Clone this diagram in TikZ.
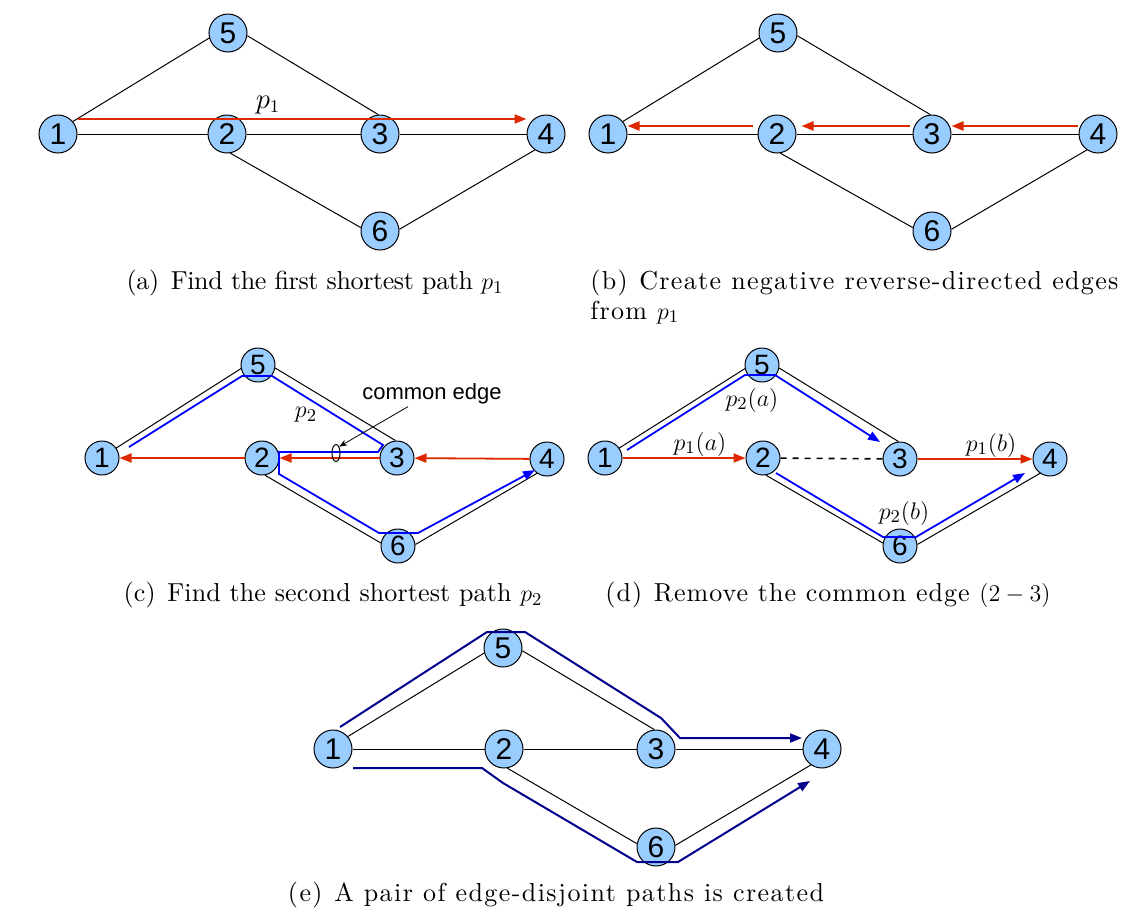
\documentclass[tikz,border=0pt]{standalone}
\usepackage{fontspec}
\usepackage{amsmath}
\usepackage{xcolor}
\usetikzlibrary{arrows.meta,calc,shapes.geometric}
\newfontfamily\nodefont{Liberation Sans}
\newfontfamily\capfont{lmroman10-regular.otf}[Ligatures=TeX]
\definecolor{nodeblue}{RGB}{153,204,255}
\definecolor{pathred}{RGB}{221,40,0}
\definecolor{pathblue}{RGB}{0,0,255}
\definecolor{pathnavy}{RGB}{0,0,140}

\begin{document}
\begin{tikzpicture}[x=0.5pt,y=-0.5pt,
  vtx/.style={circle,draw,line width=0.5pt,fill=nodeblue,inner sep=0pt,minimum size=19pt,font=\nodefont\fontsize{15}{15}\selectfont},
  svtx/.style={vtx,minimum size=17pt,font=\nodefont\fontsize{14}{14}\selectfont},
  link/.style={line width=0.5pt},
  redarr/.style={draw=pathred,line width=1.1pt,-{Triangle[length=6pt,width=4.5pt]}},
  sredarr/.style={redarr,line width=0.9pt},
  bluearr/.style={draw=pathblue,line width=0.9pt,-{Triangle[length=6pt,width=4.5pt]}},
  navyarr/.style={draw=pathnavy,line width=1pt,-{Triangle[length=6pt,width=4.5pt]}},
  lbl/.style={font=\fontsize{12.5}{12.5}\selectfont,inner sep=0pt},
  capt/.style={font=\capfont\fontsize{13}{15}\selectfont,inner sep=0pt}]
\useasboundingbox (0,0) rectangle (1142,911);

% (a)
\node[vtx] (a1) at (58,134) {1};
\node[vtx] (a2) at (227,134) {2};
\node[vtx] (a3) at (380,134) {3};
\node[vtx] (a4) at (546,134) {4};
\node[vtx] (a5) at (228,33) {5};
\node[vtx] (a6) at (380,231) {6};
\draw[link] (a1.40) -- (a5.195);
\draw[link] (a5.-8) -- (a3.95);
\draw[link] (a1) -- (a2);
\draw[link] (a2) -- (a3);
\draw[link] (a3) -- (a4);
\draw[link] (a2.-80) -- (a6.170);
\draw[link] (a6.5) -- (a4.235);
\draw[redarr] ([yshift=7.5pt]a1.east) -- ([yshift=7.5pt]a4.west);
\node[lbl,font=\fontsize{13.5}{13.5}\selectfont] (pa) at (268,105) {$p_1$};
\node[capt] (capa) at (315,283) {\addfontfeature{LetterSpace=-1.5}(a)\hspace{0.45em}Find the first shortest path $p_1$};

% (b)
\node[vtx] (b1) at (608,134) {1};
\node[vtx] (b2) at (777,134) {2};
\node[vtx] (b3) at (932,134) {3};
\node[vtx] (b4) at (1098,134) {4};
\node[vtx] (b5) at (778,33) {5};
\node[vtx] (b6) at (932,231) {6};
\draw[link] (b1.40) -- (b5.195);
\draw[link] (b5.-8) -- (b3.95);
\draw[link] (b1) -- (b2);
\draw[link] (b2) -- (b3);
\draw[link] (b3) -- (b4);
\draw[link] (b2.-80) -- (b6.170);
\draw[link] (b6.5) -- (b4.235);
\draw[redarr] ([xshift=-0.5pt,yshift=4pt]b4.west) -- ([yshift=4pt]b3.east);
\draw[redarr] ([xshift=-1.5pt,yshift=4pt]b3.west) -- ([xshift=2.5pt,yshift=4pt]b2.east);
\draw[redarr] ([xshift=-2.5pt,yshift=4pt]b2.west) -- ([yshift=4pt]b1.east);
\node[capt,anchor=base west,text width=264pt,align=justify] (capb) at (590,289)
  {\addfontfeature{LetterSpace=5}\exhyphenpenalty=10000\hyphenpenalty=10000 (b)\hspace{0.45em}Create negative reverse-directed edges\linebreak from $p_1$};

% (c)
\node[svtx] (c1) at (102,458) {1};
\node[svtx] (c2) at (262,458) {2};
\node[svtx] (c3) at (397,458) {3};
\node[svtx] (c4) at (547,459) {4};
\node[svtx] (c5) at (258,365) {5};
\node[svtx] (c6) at (398,546) {6};
\draw[link] (c1.35) -- (c5.192);
\draw[link] (c5.-10) -- (c3.95);
\draw[link] (c2.-80) -- (c6.170);
\draw[link] (c6.5) -- (c4.235);
\draw[sredarr] (c2) -- (c1);
\draw[sredarr] (c3) -- (c2);
\draw[sredarr] (c4) -- (c3);
\draw[bluearr] ($(c1)+(27,-11)$) -- ($(c5)+(-16,11)$) -- ($(c5)+(14,11)$)
  -- ($(c3)+(-14,-13)$) -- ($(c3)+(-19,-6)$) -- ($(c2)+(17,-6)$) -- ($(c2)+(17,16)$)
  -- ($(c6)+(-19,-13)$) -- ($(c6)+(20,-13)$) -- ($(c4)+(-12,11)$);
\node[lbl] (pc) at (306,415) {$p_2$};
\node[draw,ellipse,line width=0.5pt,inner sep=0pt,minimum width=4pt,minimum height=8.5pt] (ce) at (336,453) {};
\node[inner sep=1pt,font=\nodefont\fontsize{11}{11}\selectfont] (celab) at (432,394) {common edge};
\draw[line width=0.4pt,-{Stealth[length=4pt,width=3pt]}] ([xshift=-12pt]celab.south) -- (ce.north east);
\node[capt] (capc) at (333,595) {\addfontfeature{LetterSpace=0.5}(c)\hspace{0.45em}Find the second shortest path $p_2$};

% (d)
\node[svtx] (d1) at (605,458) {1};
\node[svtx] (d2) at (763,458) {2};
\node[svtx] (d3) at (900,459) {3};
\node[svtx] (d4) at (1050,459) {4};
\node[svtx] (d5) at (762,365) {5};
\node[svtx] (d6) at (900,546) {6};
\draw[link] (d1.35) -- (d5.192);
\draw[link] (d5.-10) -- (d3.95);
\draw[link] (d2.-80) -- (d6.170);
\draw[link] (d6.5) -- (d4.235);
\draw[link,dashed,line width=0.8pt] (d2) -- (d3);
\draw[sredarr] (d1) -- (d2);
\draw[sredarr] (d3) -- (d4);
\draw[bluearr] ($(d1)+(22,-8)$) -- ($(d5)+(-17,10)$) -- ($(d5)+(13,10)$) -- ($(d3)+(-20,-17)$);
\draw[bluearr] ($(d2)+(13,15)$) -- ($(d6)+(-17,-9)$) -- ($(d6)+(16,-9)$) -- ($(d4)+(-25,14)$);
\node[lbl] (pd1) at (700,444) {$p_1(a)$};
\node[lbl] (pd2) at (752,400) {$p_2(a)$};
\node[lbl] (pd3) at (991,445) {$p_1(b)$};
\node[lbl] (pd4) at (904,513) {$p_2(b)$};
\node[capt] (capd) at (828,595) {\addfontfeature{LetterSpace=4}(d)\hspace{0.45em}Remove the common edge $(2-3)$};

% (e)
\node[vtx] (e1) at (333,749) {1};
\node[vtx] (e2) at (504,749) {2};
\node[vtx] (e3) at (656,749) {3};
\node[vtx] (e4) at (822,749) {4};
\node[vtx] (e5) at (503,648) {5};
\node[vtx] (e6) at (656,847) {6};
\draw[link] (e1.40) -- (e5.195);
\draw[link] (e5.-8) -- (e3.95);
\draw[link] (e1) -- (e2);
\draw[link] (e2) -- (e3);
\draw[link] (e3) -- (e4);
\draw[link] (e2.-80) -- (e6.170);
\draw[link] (e6.5) -- (e4.235);
\draw[navyarr] ($(e1)+(7,-22)$) -- ($(e5)+(-16,-16)$) -- ($(e5)+(22,-16)$)
  -- ($(e3)+(5,-31)$) -- ($(e3)+(24,-11)$) -- ($(e4)+(-20,-11)$);
\draw[navyarr] ($(e1)+(20,19)$) -- ($(e2)+(-22,19)$) -- ($(e2)+(-1,34)$)
  -- ($(e6)+(-19,15)$) -- ($(e6)+(22,15)$) -- ($(e4)+(-12,32)$);
\node[capt] (cape) at (556,895) {\addfontfeature{LetterSpace=5.5}(e)\hspace{0.45em}A pair of edge-disjoint paths is created};
\end{tikzpicture}
\end{document}
